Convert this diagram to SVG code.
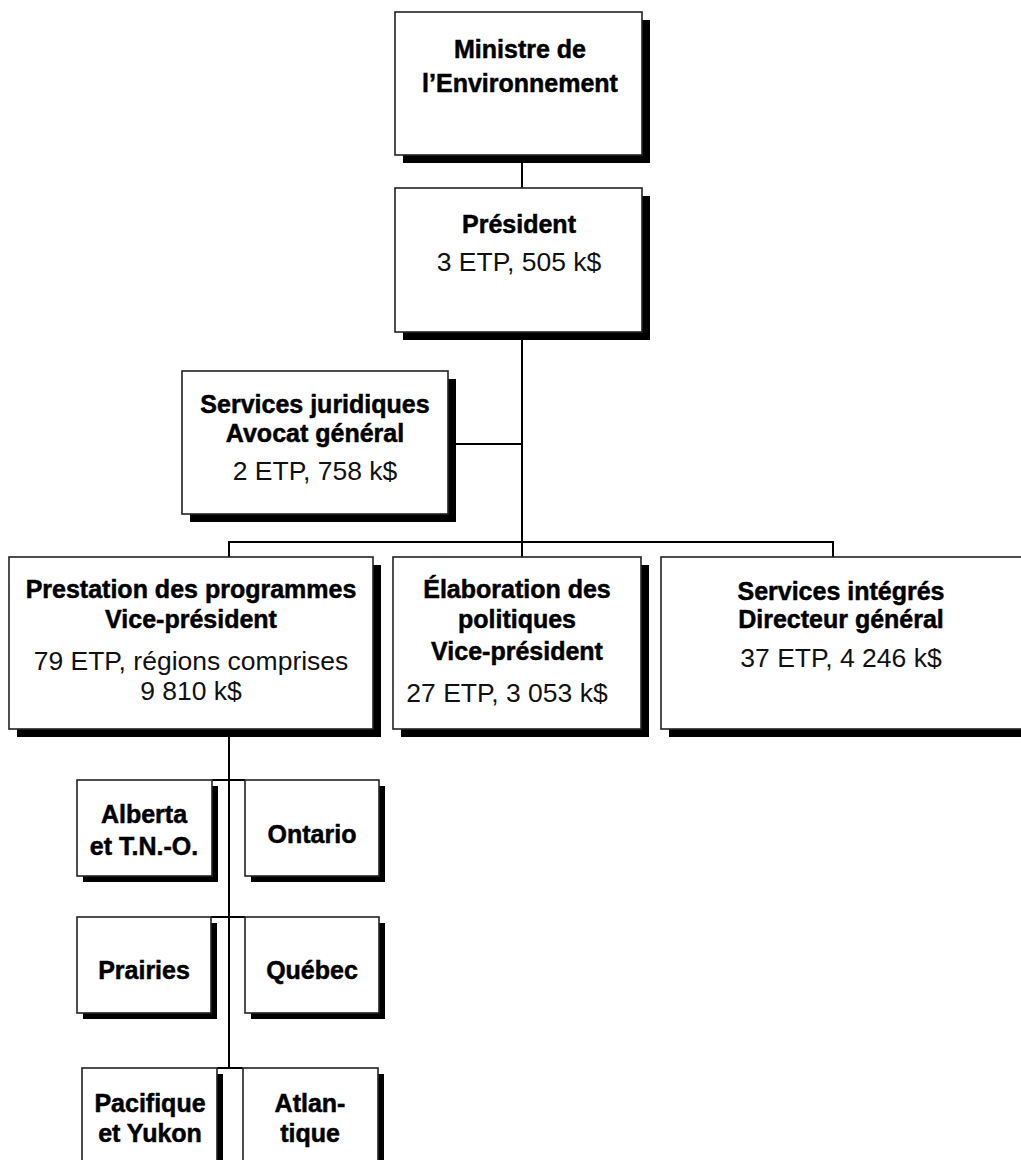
<svg xmlns="http://www.w3.org/2000/svg" width="1021" height="1160" viewBox="0 0 1021 1160">
<style>
.sh{fill:#000}
.bx{fill:#fff;stroke:#222;stroke-width:1.6}
.b{font-family:"Liberation Sans",Arial,sans-serif;font-weight:bold;font-size:25px;fill:#000;stroke:#000;stroke-width:0.5;text-anchor:middle}
.r{font-family:"Liberation Sans",Arial,sans-serif;font-size:26.5px;fill:#111;text-anchor:middle}
.c{stroke:#000;stroke-width:2;fill:none}
</style>
<rect width="1021" height="1160" fill="#fff"/>
<g id="connectors">
<line class="c" x1="522" y1="160" x2="522" y2="188"/>
<line class="c" x1="522" y1="335" x2="522" y2="557"/>
<line class="c" x1="448" y1="444" x2="522" y2="444"/>
<polyline class="c" points="229,557 229,542 833,542 833,557"/>
<line class="c" x1="229" y1="732" x2="229" y2="1068"/>
<line class="c" x1="212" y1="780" x2="245" y2="780"/>
<line class="c" x1="211" y1="917" x2="245" y2="917"/>
<line class="c" x1="217" y1="1068" x2="243" y2="1068"/>
</g>
<g id="ministre">
<rect class="sh" x="403" y="20" width="247" height="143"/>
<rect class="bx" x="395" y="12" width="247" height="143"/>
<text class="b" x="520" y="58">Ministre de</text>
<text class="b" x="520" y="92">l’Environnement</text>
</g>
<g id="president">
<rect class="sh" x="403" y="196" width="247" height="144"/>
<rect class="bx" x="395" y="188" width="247" height="144"/>
<text class="b" x="519" y="233">Président</text>
<text class="r" x="519" y="271">3 ETP, 505 k$</text>
</g>
<g id="juridiques">
<rect class="sh" x="190" y="379" width="266" height="143"/>
<rect class="bx" x="182" y="371" width="266" height="143"/>
<text class="b" x="315" y="413">Services juridiques</text>
<text class="b" x="315" y="442">Avocat général</text>
<text class="r" x="315" y="480">2 ETP, 758 k$</text>
</g>
<g id="prestation">
<rect class="sh" x="17" y="565" width="364" height="172"/>
<rect class="bx" x="9" y="557" width="364" height="172"/>
<text class="b" x="191" y="598">Prestation des programmes</text>
<text class="b" x="191" y="628">Vice-président</text>
<text class="r" x="191" y="670">79 ETP, régions comprises</text>
<text class="r" x="191" y="700">9 810 k$</text>
</g>
<g id="elaboration">
<rect class="sh" x="401" y="565" width="248" height="172"/>
<rect class="bx" x="393" y="557" width="248" height="172"/>
<text class="b" x="517" y="598">Élaboration des</text>
<text class="b" x="517" y="628">politiques</text>
<text class="b" x="517" y="660">Vice-président</text>
<text class="r" x="507" y="702">27 ETP, 3 053 k$</text>
</g>
<g id="integres">
<rect class="sh" x="669" y="565" width="360" height="172"/>
<rect class="bx" x="661" y="557" width="370" height="172"/>
<text class="b" x="841" y="600">Services intégrés</text>
<text class="b" x="841" y="628">Directeur général</text>
<text class="r" x="841" y="667">37 ETP, 4 246 k$</text>
</g>
<g id="alberta">
<rect class="sh" x="83" y="786" width="135" height="96"/>
<rect class="bx" x="77" y="780" width="135" height="96"/>
<text class="b" x="144" y="823">Alberta</text>
<text class="b" x="144" y="855">et T.N.-O.</text>
</g>
<g id="ontario">
<rect class="sh" x="251" y="786" width="134" height="96"/>
<rect class="bx" x="245" y="780" width="134" height="96"/>
<text class="b" x="312" y="843">Ontario</text>
</g>
<g id="prairies">
<rect class="sh" x="83" y="923" width="134" height="96"/>
<rect class="bx" x="77" y="917" width="134" height="96"/>
<text class="b" x="144" y="979">Prairies</text>
</g>
<g id="quebec">
<rect class="sh" x="251" y="923" width="134" height="96"/>
<rect class="bx" x="245" y="917" width="134" height="96"/>
<text class="b" x="312" y="979">Québec</text>
</g>
<g id="pacifique">
<rect class="sh" x="88" y="1074" width="135" height="100"/>
<rect class="bx" x="82" y="1068" width="135" height="100"/>
<text class="b" x="150" y="1112">Pacifique</text>
<text class="b" x="150" y="1142">et Yukon</text>
</g>
<g id="atlantique">
<rect class="sh" x="249" y="1074" width="135" height="100"/>
<rect class="bx" x="243" y="1068" width="135" height="100"/>
<text class="b" x="310" y="1112">Atlan-</text>
<text class="b" x="310" y="1142">tique</text>
</g>
</svg>
